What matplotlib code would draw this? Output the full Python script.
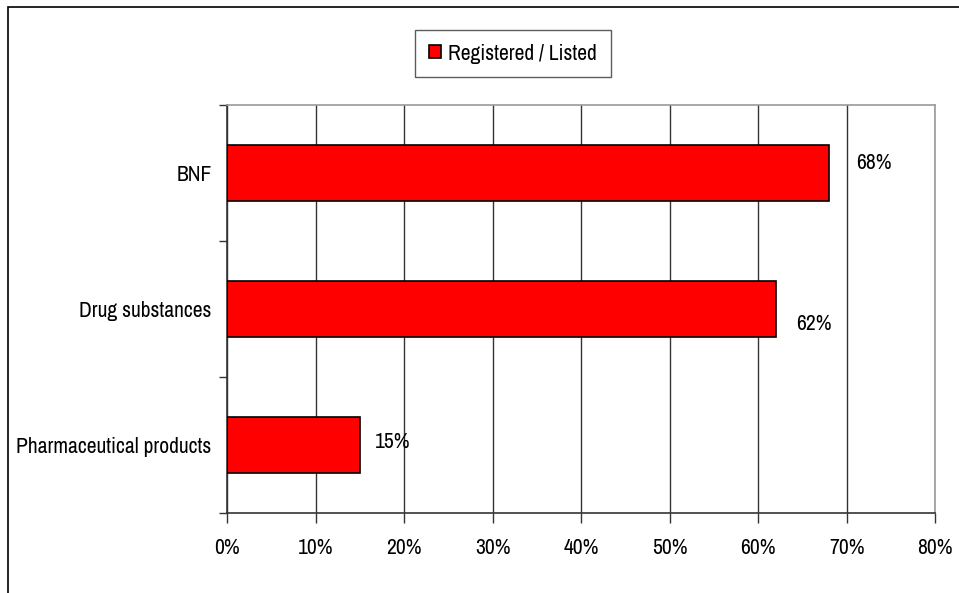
import matplotlib
matplotlib.use("Agg")
import matplotlib.pyplot as plt
from matplotlib import font_manager
from matplotlib.patches import Rectangle
from matplotlib.ticker import FixedLocator, PercentFormatter

categories = ["Pharmaceutical products", "Drug substances", "BNF"]
values = [15, 62, 68]
series_name = "Registered / Listed"
xticks = [0, 10, 20, 30, 40, 50, 60, 70, 80]

# pick a condensed font if one is installed
names = {f.name for f in font_manager.fontManager.ttflist}
narrow = [n for n in names if 'Narrow' in n or 'Condensed' in n]
dv_cond = any(f.name == 'DejaVu Sans' and f.stretch == 'condensed' for f in font_manager.fontManager.ttflist)
stretch = 'normal'
if 'Liberation Sans Narrow' in names:
    fam = ['Liberation Sans Narrow', 'DejaVu Sans']
    fs = 15.5
elif narrow:
    fam = [sorted(narrow)[0], 'DejaVu Sans']
    fs = 15.5
elif dv_cond:
    fam = ['DejaVu Sans']
    stretch = 'condensed'
    fs = 13
else:
    fam = ['Liberation Sans', 'DejaVu Sans']
    fs = 13
plt.rcParams['font.family'] = fam
plt.rcParams['font.stretch'] = stretch

W, H = 959, 593
fig = plt.figure(figsize=(W / 100, H / 100), dpi=100)
ax = fig.add_axes([227 / W, 1 - 513 / H, (935 - 227) / W, (513 - 105) / H])

# outer chart border (clipped by figure edge)
fig.patches.append(Rectangle((8 / W, -0.1), 1.2, 1 - 7 / H + 0.1, transform=fig.transFigure,
                             fill=False, edgecolor='black', linewidth=1.2, zorder=0))

ypos = list(range(len(categories)))
bars = ax.barh(ypos, values, height=0.41, color='#ff0000', edgecolor='black', linewidth=1.2,
               label=series_name, zorder=3)

ax.set_xlim(0, 80)
ax.set_ylim(-0.5, len(categories) - 0.5)
ax.xaxis.set_major_locator(FixedLocator(xticks))
ax.xaxis.set_major_formatter(PercentFormatter(decimals=0))
ax.grid(axis='x', color='#333333', linewidth=1.0, zorder=1)
ax.set_axisbelow(True)

ax.set_yticks(ypos)
ax.set_yticklabels(categories)
ax.yaxis.set_minor_locator(FixedLocator([-0.5 + i for i in range(len(categories) + 1)]))
ax.tick_params(axis='y', which='major', length=0, pad=11, labelsize=fs)
ax.tick_params(axis='y', which='minor', length=6, width=1, direction='out', color='#333333')
ax.tick_params(axis='x', length=7, width=1, direction='out', pad=11, labelsize=fs, color='#333333')

for side in ['left', 'bottom']:
    ax.spines[side].set_color('#333333')
    ax.spines[side].set_linewidth(1.2)
for side in ['top', 'right']:
    ax.spines[side].set_color('#999999')
    ax.spines[side].set_linewidth(1.2)

# label offsets in order of categories (Pharmaceutical, Drug, BNF)
offsets = [(11, 2), (15, -11), (20, 7)]
for b, v, off in zip(bars, values, offsets):
    ax.annotate(f"{v}%", (b.get_width(), b.get_y() + b.get_height() / 2), xytext=off,
                textcoords='offset points', ha='left', va='center', fontsize=fs)

leg = fig.legend(loc='center', bbox_to_anchor=(513 / W, 1 - 53.5 / H), fontsize=fs,
                 frameon=True, fancybox=False, edgecolor='#333333', handlelength=0.55,
                 handleheight=0.55, handletextpad=0.3, borderpad=0.65, borderaxespad=0)
leg.get_frame().set_linewidth(1.0)
for p in leg.get_patches():
    p.set_linewidth(1.2)

fig.savefig("out.png", dpi=100)
